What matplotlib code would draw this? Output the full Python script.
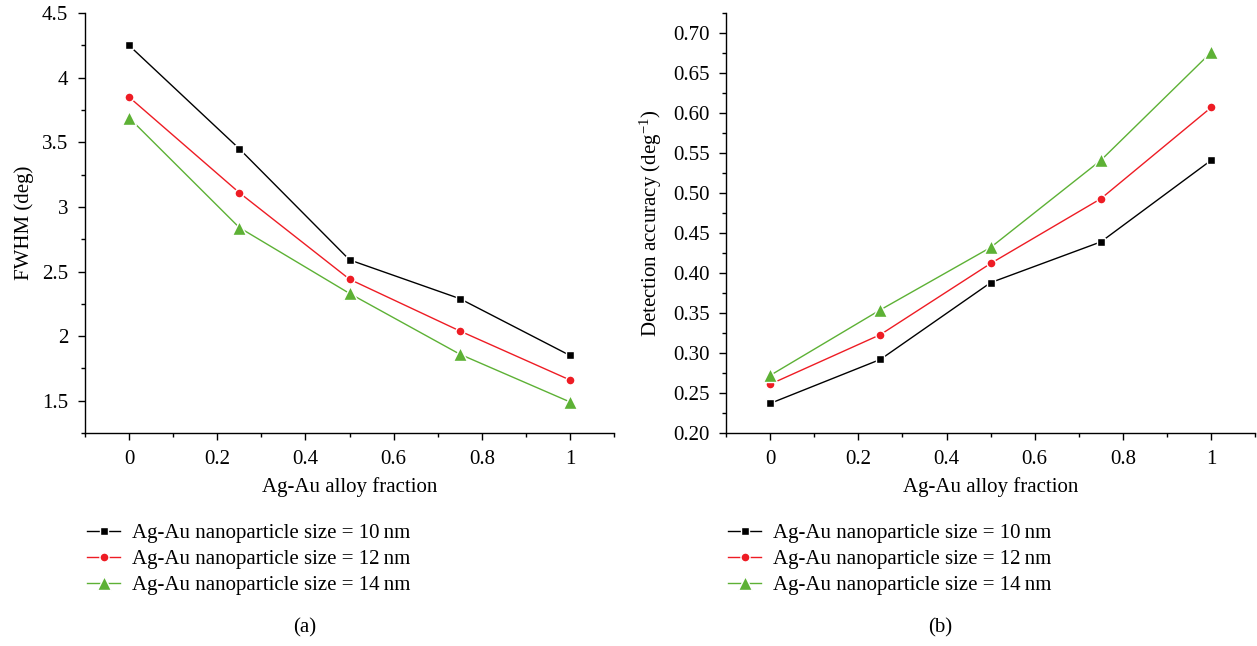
import matplotlib
matplotlib.use('Agg')
import matplotlib.pyplot as plt
from matplotlib.ticker import MultipleLocator, FormatStrFormatter

plt.rcParams['font.family'] = ['Liberation Serif', 'DejaVu Serif']
plt.rcParams['mathtext.fontset'] = 'custom'
plt.rcParams['mathtext.rm'] = 'Liberation Serif'
plt.rcParams['mathtext.it'] = 'Liberation Serif:italic'

# data
fraction = [0, 0.25, 0.5, 0.75, 1]
sizes = ['10', '12', '14']
fwhm_10 = [4.25, 3.45, 2.59, 2.29, 1.85]
fwhm_12 = [3.85, 3.11, 2.44, 2.04, 1.66]
fwhm_14 = [3.69, 2.84, 2.33, 1.86, 1.49]
acc_10 = [0.237, 0.292, 0.388, 0.439, 0.541]
acc_12 = [0.261, 0.323, 0.412, 0.493, 0.607]
acc_14 = [0.272, 0.354, 0.432, 0.541, 0.676]

colors = ['#000000', '#ee1c24', '#5db135']
markers = ['s', 'o', '^']
msizes = [6.0, 6.5, 9.5]
fs = 15

fig = plt.figure(figsize=(12.57, 6.46), dpi=100)
ax1 = fig.add_axes([0.0676, 0.3297, 0.421, 0.650])
ax2 = fig.add_axes([0.5776, 0.3297, 0.421, 0.650])


def draw(ax, series):
    lines = []
    for vals, s, c, m, ms in zip(series, sizes, colors, markers, msizes):
        ln, = ax.plot(fraction, vals, color=c, lw=1.0, marker=m, ms=ms,
                      mfc=c, mec='white', mew=1.0,
                      label='Ag-Au nanoparticle size = ' + s + '\u2009nm')
        lines.append(ln)
    for side in ['top', 'right']:
        ax.spines[side].set_visible(False)
    ax.spines['left'].set_linewidth(1.0)
    ax.spines['bottom'].set_linewidth(1.0)
    ax.set_xlim(-0.1, 1.1)
    ax.xaxis.set_major_locator(MultipleLocator(0.2))
    ax.xaxis.set_minor_locator(MultipleLocator(0.1))
    ax.xaxis.set_major_formatter(lambda v, p: '%g' % round(v, 2))
    ax.tick_params(which='major', direction='out', length=5, width=1.0,
                   labelsize=fs, pad=7)
    ax.tick_params(which='minor', direction='out', length=3, width=1.0)
    ax.set_xlabel('Ag-Au alloy fraction', fontsize=fs, labelpad=6)
    ax.legend(handles=lines, loc='upper left', bbox_to_anchor=(-0.012, -0.196),
              frameon=False, fontsize=fs, handlelength=1.6, handletextpad=0.58,
              labelspacing=0.3, borderaxespad=0)
    return lines


draw(ax1, [fwhm_10, fwhm_12, fwhm_14])
ax1.set_ylim(1.25, 4.5)
ax1.yaxis.set_major_locator(MultipleLocator(0.5))
ax1.yaxis.set_minor_locator(MultipleLocator(0.25))
ax1.yaxis.set_major_formatter(lambda v, p: '%g' % round(v, 2))
ax1.set_ylabel('FWHM (deg)', fontsize=fs, labelpad=6)

draw(ax2, [acc_10, acc_12, acc_14])
ax2.set_ylim(0.2, 0.725)
ax2.yaxis.set_major_locator(MultipleLocator(0.05))
ax2.yaxis.set_minor_locator(MultipleLocator(0.025))
ax2.yaxis.set_major_formatter(FormatStrFormatter('%.2f'))
ax2.set_ylabel('Detection accuracy (deg$^{-1}$)', fontsize=fs, labelpad=6)

fig.text(0.2427, 0.028, '(a)', fontsize=fs, ha='center', va='center')
fig.text(0.748, 0.028, '(b)', fontsize=fs, ha='center', va='center')

fig.savefig('out.png', dpi=100)
